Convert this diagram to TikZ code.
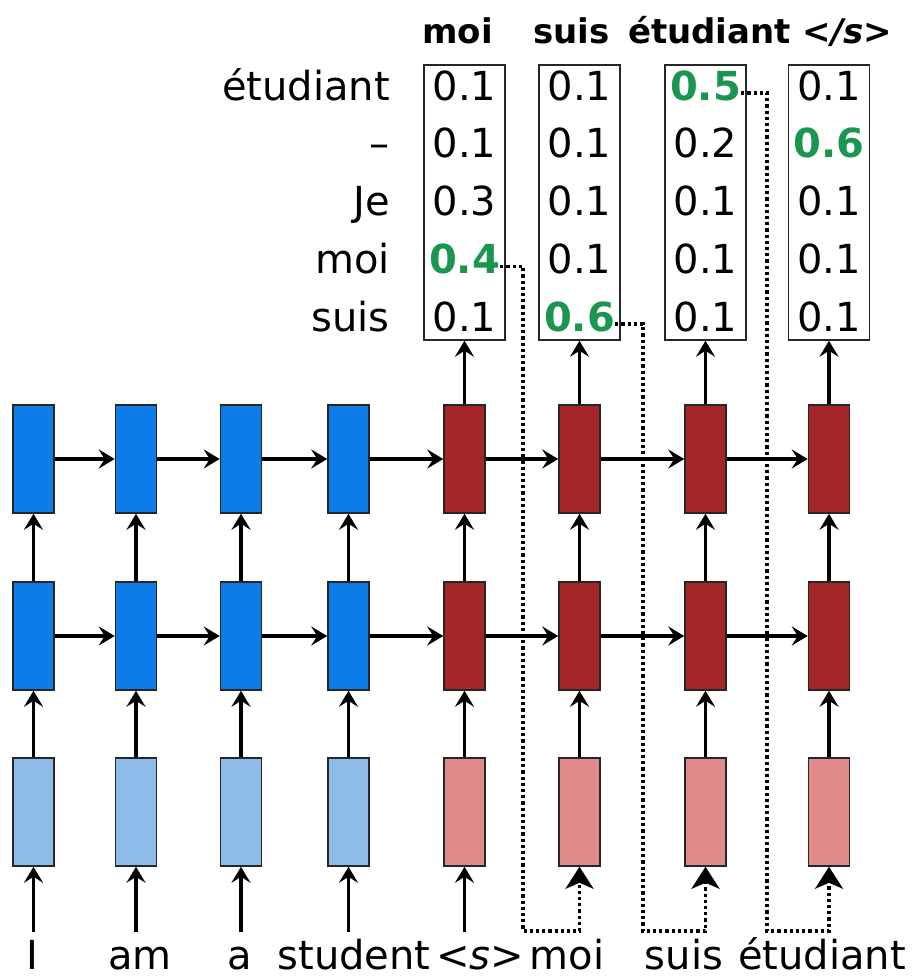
\documentclass[tikz,border=0pt]{standalone}
\usepackage{fontspec}
\setmainfont{DejaVu Sans}
\usetikzlibrary{arrows.meta}
\definecolor{encdark}{RGB}{14,124,232}
\definecolor{enclight}{RGB}{142,188,234}
\definecolor{decdark}{RGB}{164,38,38}
\definecolor{declight}{RGB}{224,138,138}
\definecolor{pickgreen}{RGB}{26,150,80}
\tikzset{
  cell/.style={draw=black!85, line width=1.5pt, minimum width=41pt, minimum height=108pt, inner sep=0pt},
  encd/.style={cell, fill=encdark},
  encl/.style={cell, fill=enclight},
  decd/.style={cell, fill=decdark},
  decl/.style={cell, fill=declight},
  probbox/.style={draw=black!85, line width=1.5pt, minimum width=81pt, minimum height=275pt, inner sep=0pt},
  val/.style={anchor=base, inner sep=0pt, font=\fontsize{40}{48}\selectfont},
  best/.style={val, font=\fontsize{40}{48}\selectfont\bfseries, text=pickgreen},
  rowlab/.style={anchor=base east, inner sep=0pt, font=\fontsize{40}{48}\selectfont},
  toplab/.style={anchor=base, inner sep=0pt, font=\fontsize{34}{40}\selectfont\bfseries},
  inlab/.style={anchor=base, inner sep=0pt, font=\fontsize{40}{48}\selectfont},
  conn/.style={line width=3.4pt, -{Stealth[length=16pt, width=19pt, inset=6pt]}},
  fb/.style={line width=3.4pt, dash pattern=on 3.2pt off 3pt, -{Stealth[length=22pt, width=28pt, inset=6pt]}},
}
\begin{document}
\begin{tikzpicture}[x=1pt, y=-1pt]
\useasboundingbox (0,0) rectangle (924,978);
% column x positions
\def\xa{33.5}\def\xb{136}\def\xc{241}\def\xd{348.5}
\def\xe{464.5}\def\xf{579.5}\def\xg{705.5}\def\xh{829}
% encoder cells
\foreach \n/\x in {1/\xa,2/\xb,3/\xc,4/\xd}{
  \node[encd] (top\n) at (\x,459) {};
  \node[encd] (mid\n) at (\x,636) {};
  \node[encl] (emb\n) at (\x,812) {};
}
% decoder cells
\foreach \n/\x in {5/\xe,6/\xf,7/\xg,8/\xh}{
  \node[decd] (top\n) at (\x,459) {};
  \node[decd] (mid\n) at (\x,636) {};
  \node[decl] (emb\n) at (\x,812) {};
  \node[probbox] (tab\n) at (\x,202.5) {};
}
% row labels
\node[rowlab] (r1) at (390,100) {étudiant};
\node[rowlab] (r2) at (390,157.75) {–};
\node[rowlab] (r3) at (390,215.5) {Je};
\node[rowlab] (r4) at (390,273.25) {moi};
\node[rowlab] (r5) at (390,331) {suis};
% values
\node[val] (v51) at (\xe,100) {0.1};
\node[val] (v52) at (\xe,157.75) {0.1};
\node[val] (v53) at (\xe,215.5) {0.3};
\node[best] (v54) at (\xe,273.25) {0.4};
\node[val] (v55) at (\xe,331) {0.1};
\node[val] (v61) at (\xf,100) {0.1};
\node[val] (v62) at (\xf,157.75) {0.1};
\node[val] (v63) at (\xf,215.5) {0.1};
\node[val] (v64) at (\xf,273.25) {0.1};
\node[best] (v65) at (\xf,331) {0.6};
\node[best] (v71) at (\xg,100) {0.5};
\node[val] (v72) at (\xg,157.75) {0.2};
\node[val] (v73) at (\xg,215.5) {0.1};
\node[val] (v74) at (\xg,273.25) {0.1};
\node[val] (v75) at (\xg,331) {0.1};
\node[val] (v81) at (\xh,100) {0.1};
\node[best] (v82) at (\xh,157.75) {0.6};
\node[val] (v83) at (\xh,215.5) {0.1};
\node[val] (v84) at (\xh,273.25) {0.1};
\node[val] (v85) at (\xh,331) {0.1};
% top labels
\node[toplab] (o5) at (457.5,43) {moi};
\node[toplab] (o6) at (571.5,43) {suis};
\node[toplab] (o7) at (709.5,43) {étudiant};
\node[toplab] (o8) at (847.5,43) {<\textit{/s}>};
% input labels
\node[inlab] (w1) at (32,969) {I};
\node[inlab] (w2) at (140,969) {am};
\node[inlab] (w3) at (240,969) {a};
\node[inlab] (w4) at (354,969) {student};
\node[inlab] (w5) at (480,969) {<\textit{s}>};
\node[inlab] (w6) at (567,969) {moi};
\node[inlab] (w7) at (684,969) {suis};
\node[inlab] (w8) at (822,969) {étudiant};
% input arrow starts
\foreach \n/\x in {1/\xa,2/\xb,3/\xc,4/\xd,5/\xe}{
  \coordinate (s\n) at (\x,932);
}
% feedback corner points
\coordinate (d6) at (523,931);
\coordinate (d7) at (643,931);
\coordinate (d8) at (767,931);
% feedback dotted connectors
\draw[fb] ([yshift=7pt]v54.base east) -| (d6) -| (emb6.south);
\draw[fb] ([yshift=7pt]v65.base east) -| (d7) -| (emb7.south);
\draw[fb] ([yshift=7pt]v71.base east) -| (d8) -| (emb8.south);
% input arrows
\foreach \n in {1,...,5}{
  \draw[conn] (s\n) -- (emb\n.south);
}
% vertical arrows
\foreach \n in {1,...,8}{
  \draw[conn] (emb\n.north) -- (mid\n.south);
  \draw[conn] (mid\n.north) -- (top\n.south);
}
\foreach \n in {5,...,8}{
  \draw[conn] (top\n.north) -- (tab\n.south);
}
% horizontal arrows
\foreach \a/\b in {1/2,2/3,3/4,4/5,5/6,6/7,7/8}{
  \draw[conn] (top\a.east) -- (top\b.west);
  \draw[conn] (mid\a.east) -- (mid\b.west);
}
\end{tikzpicture}
\end{document}
